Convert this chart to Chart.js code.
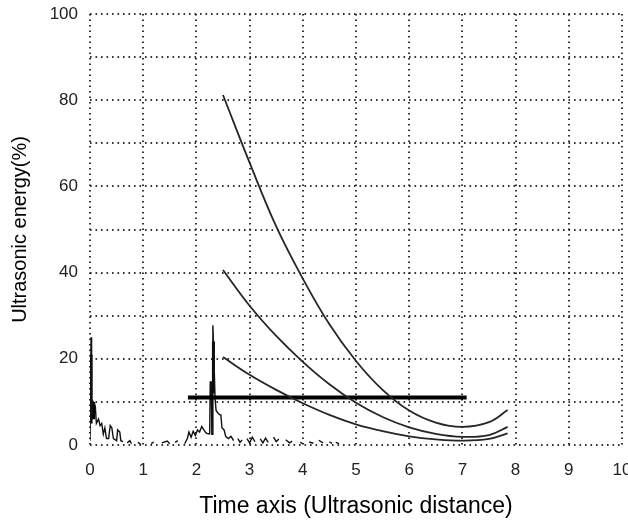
<!DOCTYPE html>
<html>
<head>
<meta charset="utf-8">
<script src="https://cdn.jsdelivr.net/npm/chart.js@4.4.1/dist/chart.umd.min.js"></script>
<style>
  html, body { margin: 0; padding: 0; background: #fff; }
  #wrap { width: 628px; height: 520px; }
</style>
</head>
<body>
<div id="wrap"><canvas id="energyChart" width="628" height="520"></canvas></div>
<script>
// tick labels
const xTickLabels = ['0', '1', '2', '3', '4', '5', '6', '7', '8', '9', '10'];
const yTickLabels = ['0', '20', '40', '60', '80', '100'];

// the three decay curves (shared x positions)
const curveX   = [2.5, 3, 3.5, 4, 4.5, 5, 5.5, 6, 6.5, 7, 7.5, 7.85];
const topCurve = [81.2, 65.5, 50.7, 38.6, 28, 19.5, 12.8, 8, 5.2, 4.2, 5.3, 8.1];
const midCurve = [40.6, 32.3, 25.3, 19.3, 14.1, 9.8, 6.5, 4.1, 2.6, 1.9, 2.3, 4.2];
const lowCurve = [20.4, 16.3, 12.8, 9.7, 7, 4.8, 3.2, 2, 1.3, 1.0, 1.4, 2.7];

// threshold line
const thresholdX = [1.84, 7.08];
const thresholdY = [11, 11];

// raw echo trace (null = gap)
const noiseX = [0, 0.02, 0.03, 0.06, 0.1, 0.12, 0.16, 0.19, 0.22, 0.25, 0.28, 0.31, 0.35, 0.38, 0.41, 0.44, 0.5, 0.52, 0.56, 0.58, 0.62, null,
  0.7, 0.75, 0.78, null, 0.9, 0.95, null, 1.15, 1.2, null, 1.35, 1.45, 1.5, null, 1.6, 1.65, null,
  1.78, 1.83, 1.86, 1.9, 1.94, 1.98, 2.02, 2.06, 2.1, 2.14, 2.18, 2.22, 2.25, 2.26, 2.28, 2.29, 2.3, 2.31, 2.33, 2.35, 2.37, 2.4, 2.44, 2.46, 2.48, 2.52, 2.55, 2.6, 2.65, 2.7, null,
  2.78, 2.82, 2.86, null, 2.95, 3.0, 3.05, 3.1, null, 3.2, 3.25, 3.3, 3.35, null, 3.45, 3.5, 3.55, null,
  3.68, 3.75, 3.8, null, 3.95, 4.0, null, 4.12, 4.2, null, 4.3, 4.38, null, 4.5, 4.55, null, 4.62, 4.68];
const noiseY = [1, 25, 6, 10, 9, 5, 6, 4.5, 5, 2.5, 4, 1.5, 1.5, 4.5, 4, 1.5, 1, 3.5, 3, 1, 0.8, null,
  0.5, 1.0, 0.3, null, 0.6, 0.2, null, 0.3, 0.7, null, 0.5, 0.9, 0.3, null, 0.6, 1, null,
  0.3, 1.5, 3, 1.8, 3.2, 2.2, 3.5, 3, 4.3, 3.5, 2.8, 2.6, 2.6, 14.6, 14.6, 2.5, 2.5, 27.8, 20, 11, 8, 7.5, 7, 7, 4, 3.5, 2, 1.5, 2, 1, null,
  1.5, 0.6, 1.2, null, 1.5, 0.5, 1.8, 0.8, null, 1.4, 0.5, 1.6, 0.6, null, 1.8, 0.8, 1.4, null,
  1.2, 0.5, 0.9, null, 0.6, 0.3, null, 0.7, 0.4, null, 1.1, 0.5, null, 0.7, 0.4, null, 0.6, 0.3];

// thicker cores of the two echo spikes
const spikeX = [0.02, 0.02, null, 0.07, 0.07, null, 2.32, 2.32];
const spikeY = [21, 5, null, 10, 6, null, 24, 12];

function toPoints(xs, ys) {
  return xs.map((x, i) => (x === null ? { x: NaN, y: null } : { x: x, y: ys[i] }));
}

const gridStyle = {
  color: 'rgba(30,30,30,0.9)',
  lineWidth: 2,
  drawTicks: false
};
const tickFont = { family: "'Liberation Sans', Arial, sans-serif", size: 17 };

const ctx = document.getElementById('energyChart').getContext('2d');
new Chart(ctx, {
  type: 'line',
  data: {
    datasets: [
      { data: toPoints(curveX, topCurve), borderColor: '#262626', borderWidth: 1.8, tension: 0.4 },
      { data: toPoints(curveX, midCurve), borderColor: '#262626', borderWidth: 1.8, tension: 0.4 },
      { data: toPoints(curveX, lowCurve), borderColor: '#262626', borderWidth: 1.8, tension: 0.4 },
      { data: toPoints(thresholdX, thresholdY), borderColor: '#000', borderWidth: 4 },
      { data: toPoints(noiseX, noiseY), borderColor: '#111', borderWidth: 1.4, spanGaps: false },
      { data: toPoints(spikeX, spikeY), borderColor: '#000', borderWidth: 3, spanGaps: false }
    ]
  },
  options: {
    responsive: false,
    animation: false,
    layout: { padding: { top: 14, right: 6, left: 0, bottom: 0 } },
    elements: { point: { radius: 0 }, line: { borderCapStyle: 'butt' } },
    plugins: { legend: { display: false }, tooltip: { enabled: false } },
    scales: {
      x: {
        type: 'linear',
        min: 0,
        max: 10,
        border: { display: false, dash: [1.6, 3.9] },
        grid: Object.assign({}, gridStyle),
        ticks: {
          stepSize: 1,
          padding: 15,
          color: '#222',
          font: tickFont,
          callback: (v) => xTickLabels[v] !== undefined ? xTickLabels[v] : ''
        },
        title: {
          display: true,
          text: 'Time axis (Ultrasonic distance)',
          color: '#000',
          font: { family: "'Liberation Sans', Arial, sans-serif", size: 23 },
          padding: { top: 0, bottom: 0 }
        },
        afterFit: (scale) => { scale.height = 75; scale.paddingLeft = 0; scale.paddingRight = 0; }
      },
      y: {
        min: 0,
        max: 100,
        border: { display: false, dash: [1.6, 3.9] },
        grid: Object.assign({}, gridStyle),
        ticks: {
          stepSize: 10,
          padding: 12,
          color: '#222',
          font: tickFont,
          callback: (v) => yTickLabels.includes(String(v)) ? String(v) : ''
        },
        title: {
          display: true,
          text: 'Ultrasonic energy(%)',
          color: '#000',
          font: { family: "'Liberation Sans', Arial, sans-serif", size: 20 },
          padding: { top: 8, bottom: 0 }
        },
        afterFit: (scale) => { scale.width = 90; scale.paddingTop = 0; scale.paddingBottom = 0; }
      }
    }
  }
});
</script>
</body>
</html>
